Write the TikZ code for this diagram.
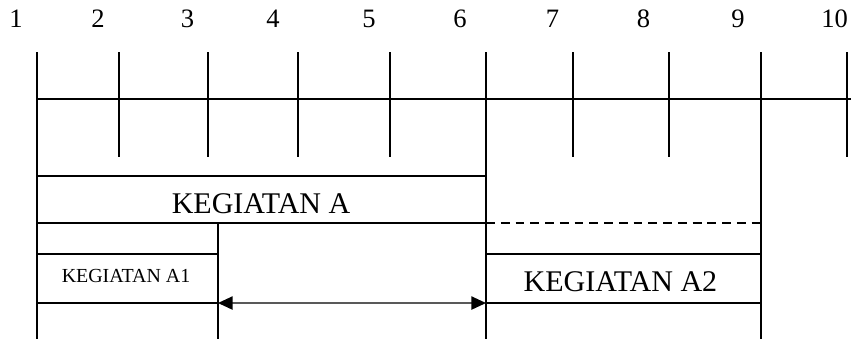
\documentclass[tikz,border=0pt]{standalone}
\usepackage{fontspec}
\setmainfont{Liberation Serif}
\usetikzlibrary{arrows.meta}

\begin{document}
\begin{tikzpicture}[thick line/.style={line width=0.9pt},
        thin line/.style={line width=0.5pt},
        week/.style={font=\fontsize{10.8}{13}\selectfont, inner sep=0pt},
        task/.style={font=\fontsize{12.2}{14}\selectfont, inner sep=0pt},
        subtask/.style={font=\fontsize{8.1}{10}\selectfont, inner sep=0pt}]

    \useasboundingbox (0,0) rectangle (12.157,4.843);

    % week numbers
    \foreach \x/\n in {0.229/1,1.4/2,2.679/3,3.9/4,5.271/5,6.571/6,7.893/7,9.193/8,10.543/9,11.924/10}
        \node[week] (w\n) at (\x,4.57) {\n};

    % time grid
    \foreach \x in {1.7,2.971,4.257,5.571,8.186,9.557,12.1}
        \draw[thin line] (\x,4.1) -- (\x,2.6);
    \draw[thin line] (0.529,3.429) -- (12.157,3.429);
    \foreach \x in {0.529,6.943,10.871}
        \draw[thick line] (\x,4.1) -- (\x,0);
    \draw[thick line] (3.114,1.657) -- (3.114,0);

    % kegiatan A
    \draw[thick line] (0.529,2.329) -- (6.943,2.329);
    \draw[thick line] (0.529,1.657) -- (6.943,1.657);
    \draw[line width=1.1pt, dash pattern=on 3.6pt off 2.4pt] (6.943,1.657) -- (10.871,1.657);
    \node[task] (A) at (3.729,1.929) {KEGIATAN A};

    % kegiatan A1 dan A2
    \draw[thick line] (0.529,1.214) -- (3.114,1.214);
    \draw[thick line] (0.529,0.514) -- (3.114,0.514);
    \draw[thick line] (6.943,1.214) -- (10.871,1.214);
    \draw[thick line] (6.943,0.514) -- (10.871,0.514);
    \node[subtask] (A1) at (1.8,0.903) {KEGIATAN A1};
    \node[task] (A2) at (8.864,0.819) {KEGIATAN A2};

    % jeda antara A1 dan A2
    \coordinate (A1 end) at (3.114,0.514);
    \coordinate (A2 start) at (6.943,0.514);
    \draw[{Triangle[length=6pt,width=5.4pt,color=black]}-{Triangle[length=6pt,width=5.4pt,color=black]},
        line width=0.7pt, black!65] (A1 end) -- (A2 start);

\end{tikzpicture}
\end{document}
